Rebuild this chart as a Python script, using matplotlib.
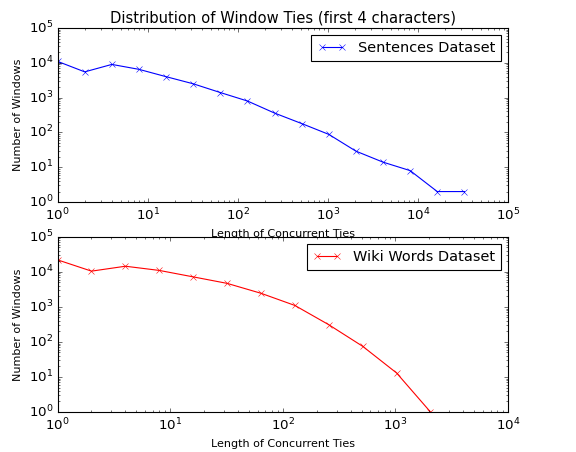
import matplotlib
matplotlib.use("Agg")
import matplotlib.pyplot as plt

plt.style.use('classic')

sent_x = [1, 2, 4, 8, 16, 32, 64, 128, 256, 512, 1024, 2048, 4096, 8192, 16384, 32768]
sent_y = [11000, 5500, 9000, 6500, 4000, 2500, 1400, 800, 360, 180, 88, 29, 14, 8, 2, 2]

wiki_x = [1, 2, 4, 8, 16, 32, 64, 128, 256, 512, 1024, 2048]
wiki_y = [22000, 10500, 14500, 11000, 7200, 4700, 2450, 1100, 310, 75, 13, 1]

title = "Distribution of Window Ties (first 4 characters)"
xlabel = "Length of Concurrent Ties"
ylabel = "Number of Windows"

DPI = 80
fig = plt.figure(figsize=(576/DPI, 452/DPI), dpi=DPI)
fig.patch.set_facecolor('white')

ax1 = fig.add_axes([0.100, 0.553, 0.782, 0.385])
ax2 = fig.add_axes([0.100, 0.0885, 0.782, 0.3875])

ax1.loglog(sent_x, sent_y, 'bx-', label="Sentences Dataset")
ax1.set_xlim(1, 1e5)
ax1.set_ylim(1, 1e5)
ax1.set_title(title, fontsize=13.3)
ax1.set_xlabel(xlabel, fontsize=10)
ax1.set_ylabel(ylabel, fontsize=10)
ax1.legend(loc='upper right', fontsize=13, numpoints=2)

ax2.loglog(wiki_x, wiki_y, 'rx-', label="Wiki Words Dataset")
ax2.set_xlim(1, 1e4)
ax2.set_ylim(1, 1e5)
ax2.set_xlabel(xlabel, fontsize=10)
ax2.set_ylabel(ylabel, fontsize=10)
ax2.legend(loc='upper right', fontsize=13, numpoints=2)

for ax in (ax1, ax2):
    ax.tick_params(labelsize=12)

fig.savefig("out.png", dpi=DPI, facecolor='white')
